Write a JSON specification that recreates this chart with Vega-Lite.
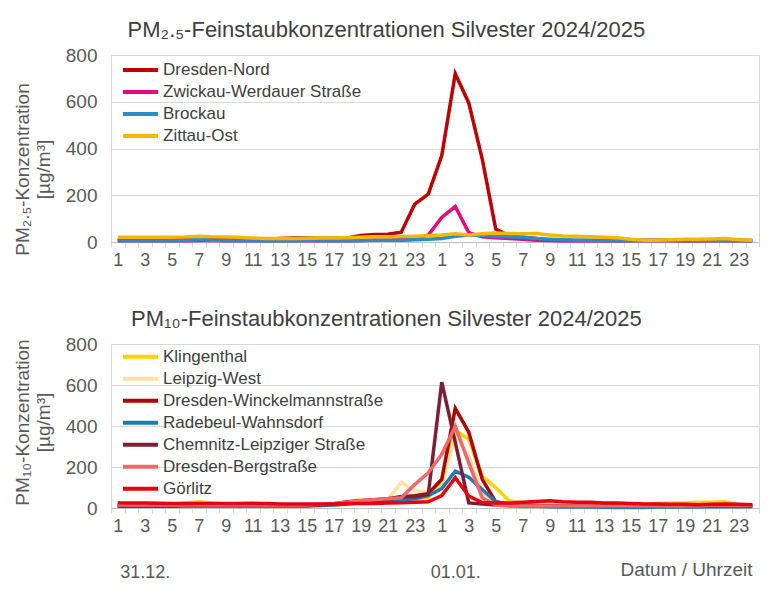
{
  "$schema": "https://vega.github.io/schema/vega-lite/v6.json",
  "padding": {"left": 12, "top": 18, "right": 10, "bottom": 5},
  "background": "white",
  "config": {
    "font": "Liberation Sans",
    "view": {"stroke": "#D9D9D9", "strokeWidth": 1},
    "title": {"fontSize": 22, "fontWeight": "normal", "color": "#404040", "anchor": "middle", "frame": "bounds", "offset": 4},
    "axis": {"labelFont": "Liberation Sans", "titleFont": "Liberation Sans", "labelColor": "#595959", "titleColor": "#595959", "titleFontWeight": "normal"},
    "legend": {"labelFont": "Liberation Sans", "labelFontSize": 17, "labelColor": "#404040", "labelLimit": 400, "symbolType": "stroke", "symbolSize": 1225, "symbolStrokeWidth": 4, "labelOffset": 3, "padding": 0, "rowPadding": 0, "title": null, "orient": "none", "legendX": 10}
  },
  "resolve": {"scale": {"color": "independent"}, "legend": {"color": "independent"}},
  "datasets": {
    "pm25": [
      {"s":"Dresden-Nord","t":1,"v":10},{"s":"Dresden-Nord","t":2,"v":10},{"s":"Dresden-Nord","t":3,"v":10},{"s":"Dresden-Nord","t":4,"v":10},{"s":"Dresden-Nord","t":5,"v":10},{"s":"Dresden-Nord","t":6,"v":11},{"s":"Dresden-Nord","t":7,"v":12},{"s":"Dresden-Nord","t":8,"v":12},{"s":"Dresden-Nord","t":9,"v":11},{"s":"Dresden-Nord","t":10,"v":10},{"s":"Dresden-Nord","t":11,"v":10},{"s":"Dresden-Nord","t":12,"v":10},
      {"s":"Dresden-Nord","t":13,"v":15},{"s":"Dresden-Nord","t":14,"v":17},{"s":"Dresden-Nord","t":15,"v":17},{"s":"Dresden-Nord","t":16,"v":16},{"s":"Dresden-Nord","t":17,"v":16},{"s":"Dresden-Nord","t":18,"v":17},{"s":"Dresden-Nord","t":19,"v":28},{"s":"Dresden-Nord","t":20,"v":32},{"s":"Dresden-Nord","t":21,"v":33},{"s":"Dresden-Nord","t":22,"v":42},{"s":"Dresden-Nord","t":23,"v":162},{"s":"Dresden-Nord","t":24,"v":205},
      {"s":"Dresden-Nord","t":25,"v":370},{"s":"Dresden-Nord","t":26,"v":720},{"s":"Dresden-Nord","t":27,"v":595},{"s":"Dresden-Nord","t":28,"v":355},{"s":"Dresden-Nord","t":29,"v":55},{"s":"Dresden-Nord","t":30,"v":25},{"s":"Dresden-Nord","t":31,"v":20},{"s":"Dresden-Nord","t":32,"v":15},{"s":"Dresden-Nord","t":33,"v":8},{"s":"Dresden-Nord","t":34,"v":6},{"s":"Dresden-Nord","t":35,"v":6},{"s":"Dresden-Nord","t":36,"v":6},
      {"s":"Dresden-Nord","t":37,"v":6},{"s":"Dresden-Nord","t":38,"v":5},{"s":"Dresden-Nord","t":39,"v":8},{"s":"Dresden-Nord","t":40,"v":7},{"s":"Dresden-Nord","t":41,"v":8},{"s":"Dresden-Nord","t":42,"v":7},{"s":"Dresden-Nord","t":43,"v":6},{"s":"Dresden-Nord","t":44,"v":6},{"s":"Dresden-Nord","t":45,"v":8},{"s":"Dresden-Nord","t":46,"v":8},{"s":"Dresden-Nord","t":47,"v":7},{"s":"Dresden-Nord","t":48,"v":6},

      {"s":"Zwickau-Werdauer Straße","t":1,"v":5},{"s":"Zwickau-Werdauer Straße","t":2,"v":5},{"s":"Zwickau-Werdauer Straße","t":3,"v":5},{"s":"Zwickau-Werdauer Straße","t":4,"v":5},{"s":"Zwickau-Werdauer Straße","t":5,"v":5},{"s":"Zwickau-Werdauer Straße","t":6,"v":5},{"s":"Zwickau-Werdauer Straße","t":7,"v":6},{"s":"Zwickau-Werdauer Straße","t":8,"v":6},{"s":"Zwickau-Werdauer Straße","t":9,"v":5},{"s":"Zwickau-Werdauer Straße","t":10,"v":5},{"s":"Zwickau-Werdauer Straße","t":11,"v":5},{"s":"Zwickau-Werdauer Straße","t":12,"v":5},
      {"s":"Zwickau-Werdauer Straße","t":13,"v":5},{"s":"Zwickau-Werdauer Straße","t":14,"v":5},{"s":"Zwickau-Werdauer Straße","t":15,"v":5},{"s":"Zwickau-Werdauer Straße","t":16,"v":5},{"s":"Zwickau-Werdauer Straße","t":17,"v":5},{"s":"Zwickau-Werdauer Straße","t":18,"v":5},{"s":"Zwickau-Werdauer Straße","t":19,"v":6},{"s":"Zwickau-Werdauer Straße","t":20,"v":8},{"s":"Zwickau-Werdauer Straße","t":21,"v":8},{"s":"Zwickau-Werdauer Straße","t":22,"v":10},{"s":"Zwickau-Werdauer Straße","t":23,"v":12},{"s":"Zwickau-Werdauer Straße","t":24,"v":30},
      {"s":"Zwickau-Werdauer Straße","t":25,"v":105},{"s":"Zwickau-Werdauer Straße","t":26,"v":152},{"s":"Zwickau-Werdauer Straße","t":27,"v":40},{"s":"Zwickau-Werdauer Straße","t":28,"v":22},{"s":"Zwickau-Werdauer Straße","t":29,"v":18},{"s":"Zwickau-Werdauer Straße","t":30,"v":15},{"s":"Zwickau-Werdauer Straße","t":31,"v":12},{"s":"Zwickau-Werdauer Straße","t":32,"v":8},{"s":"Zwickau-Werdauer Straße","t":33,"v":6},{"s":"Zwickau-Werdauer Straße","t":34,"v":5},{"s":"Zwickau-Werdauer Straße","t":35,"v":5},{"s":"Zwickau-Werdauer Straße","t":36,"v":5},
      {"s":"Zwickau-Werdauer Straße","t":37,"v":5},{"s":"Zwickau-Werdauer Straße","t":38,"v":5},{"s":"Zwickau-Werdauer Straße","t":39,"v":5},{"s":"Zwickau-Werdauer Straße","t":40,"v":5},{"s":"Zwickau-Werdauer Straße","t":41,"v":5},{"s":"Zwickau-Werdauer Straße","t":42,"v":5},{"s":"Zwickau-Werdauer Straße","t":43,"v":5},{"s":"Zwickau-Werdauer Straße","t":44,"v":5},{"s":"Zwickau-Werdauer Straße","t":45,"v":5},{"s":"Zwickau-Werdauer Straße","t":46,"v":5},{"s":"Zwickau-Werdauer Straße","t":47,"v":5},{"s":"Zwickau-Werdauer Straße","t":48,"v":5},

      {"s":"Brockau","t":1,"v":5},{"s":"Brockau","t":2,"v":5},{"s":"Brockau","t":3,"v":5},{"s":"Brockau","t":4,"v":5},{"s":"Brockau","t":5,"v":5},{"s":"Brockau","t":6,"v":6},{"s":"Brockau","t":7,"v":12},{"s":"Brockau","t":8,"v":8},{"s":"Brockau","t":9,"v":6},{"s":"Brockau","t":10,"v":5},{"s":"Brockau","t":11,"v":5},{"s":"Brockau","t":12,"v":5},
      {"s":"Brockau","t":13,"v":5},{"s":"Brockau","t":14,"v":5},{"s":"Brockau","t":15,"v":6},{"s":"Brockau","t":16,"v":6},{"s":"Brockau","t":17,"v":5},{"s":"Brockau","t":18,"v":5},{"s":"Brockau","t":19,"v":6},{"s":"Brockau","t":20,"v":7},{"s":"Brockau","t":21,"v":8},{"s":"Brockau","t":22,"v":8},{"s":"Brockau","t":23,"v":10},{"s":"Brockau","t":24,"v":12},
      {"s":"Brockau","t":25,"v":15},{"s":"Brockau","t":26,"v":25},{"s":"Brockau","t":27,"v":30},{"s":"Brockau","t":28,"v":28},{"s":"Brockau","t":29,"v":25},{"s":"Brockau","t":30,"v":22},{"s":"Brockau","t":31,"v":20},{"s":"Brockau","t":32,"v":15},{"s":"Brockau","t":33,"v":12},{"s":"Brockau","t":34,"v":10},{"s":"Brockau","t":35,"v":8},{"s":"Brockau","t":36,"v":7},
      {"s":"Brockau","t":37,"v":6},{"s":"Brockau","t":38,"v":5},{"s":"Brockau","t":39,"v":5},{"s":"Brockau","t":40,"v":6},{"s":"Brockau","t":41,"v":6},{"s":"Brockau","t":42,"v":6},{"s":"Brockau","t":43,"v":6},{"s":"Brockau","t":44,"v":6},{"s":"Brockau","t":45,"v":6},{"s":"Brockau","t":46,"v":5},{"s":"Brockau","t":47,"v":5},{"s":"Brockau","t":48,"v":5},

      {"s":"Zittau-Ost","t":1,"v":20},{"s":"Zittau-Ost","t":2,"v":20},{"s":"Zittau-Ost","t":3,"v":20},{"s":"Zittau-Ost","t":4,"v":20},{"s":"Zittau-Ost","t":5,"v":20},{"s":"Zittau-Ost","t":6,"v":21},{"s":"Zittau-Ost","t":7,"v":25},{"s":"Zittau-Ost","t":8,"v":22},{"s":"Zittau-Ost","t":9,"v":21},{"s":"Zittau-Ost","t":10,"v":20},{"s":"Zittau-Ost","t":11,"v":17},{"s":"Zittau-Ost","t":12,"v":15},
      {"s":"Zittau-Ost","t":13,"v":15},{"s":"Zittau-Ost","t":14,"v":15},{"s":"Zittau-Ost","t":15,"v":16},{"s":"Zittau-Ost","t":16,"v":17},{"s":"Zittau-Ost","t":17,"v":17},{"s":"Zittau-Ost","t":18,"v":18},{"s":"Zittau-Ost","t":19,"v":20},{"s":"Zittau-Ost","t":20,"v":22},{"s":"Zittau-Ost","t":21,"v":22},{"s":"Zittau-Ost","t":22,"v":24},{"s":"Zittau-Ost","t":23,"v":25},{"s":"Zittau-Ost","t":24,"v":27},
      {"s":"Zittau-Ost","t":25,"v":30},{"s":"Zittau-Ost","t":26,"v":35},{"s":"Zittau-Ost","t":27,"v":30},{"s":"Zittau-Ost","t":28,"v":35},{"s":"Zittau-Ost","t":29,"v":38},{"s":"Zittau-Ost","t":30,"v":36},{"s":"Zittau-Ost","t":31,"v":35},{"s":"Zittau-Ost","t":32,"v":36},{"s":"Zittau-Ost","t":33,"v":30},{"s":"Zittau-Ost","t":34,"v":26},{"s":"Zittau-Ost","t":35,"v":25},{"s":"Zittau-Ost","t":36,"v":22},
      {"s":"Zittau-Ost","t":37,"v":20},{"s":"Zittau-Ost","t":38,"v":18},{"s":"Zittau-Ost","t":39,"v":12},{"s":"Zittau-Ost","t":40,"v":8},{"s":"Zittau-Ost","t":41,"v":8},{"s":"Zittau-Ost","t":42,"v":10},{"s":"Zittau-Ost","t":43,"v":12},{"s":"Zittau-Ost","t":44,"v":12},{"s":"Zittau-Ost","t":45,"v":13},{"s":"Zittau-Ost","t":46,"v":15},{"s":"Zittau-Ost","t":47,"v":10},{"s":"Zittau-Ost","t":48,"v":8}
    ],
    "pm10": [
      {"s":"Klingenthal","t":1,"v":15},{"s":"Klingenthal","t":2,"v":15},{"s":"Klingenthal","t":3,"v":15},{"s":"Klingenthal","t":4,"v":18},{"s":"Klingenthal","t":5,"v":20},{"s":"Klingenthal","t":6,"v":25},{"s":"Klingenthal","t":7,"v":30},{"s":"Klingenthal","t":8,"v":25},{"s":"Klingenthal","t":9,"v":20},{"s":"Klingenthal","t":10,"v":22},{"s":"Klingenthal","t":11,"v":25},{"s":"Klingenthal","t":12,"v":20},
      {"s":"Klingenthal","t":13,"v":18},{"s":"Klingenthal","t":14,"v":15},{"s":"Klingenthal","t":15,"v":15},{"s":"Klingenthal","t":16,"v":15},{"s":"Klingenthal","t":17,"v":15},{"s":"Klingenthal","t":18,"v":18},{"s":"Klingenthal","t":19,"v":25},{"s":"Klingenthal","t":20,"v":30},{"s":"Klingenthal","t":21,"v":35},{"s":"Klingenthal","t":22,"v":40},{"s":"Klingenthal","t":23,"v":45},{"s":"Klingenthal","t":24,"v":50},
      {"s":"Klingenthal","t":25,"v":130},{"s":"Klingenthal","t":26,"v":380},{"s":"Klingenthal","t":27,"v":335},{"s":"Klingenthal","t":28,"v":155},{"s":"Klingenthal","t":29,"v":100},{"s":"Klingenthal","t":30,"v":35},{"s":"Klingenthal","t":31,"v":25},{"s":"Klingenthal","t":32,"v":20},{"s":"Klingenthal","t":33,"v":18},{"s":"Klingenthal","t":34,"v":15},{"s":"Klingenthal","t":35,"v":15},{"s":"Klingenthal","t":36,"v":15},
      {"s":"Klingenthal","t":37,"v":15},{"s":"Klingenthal","t":38,"v":15},{"s":"Klingenthal","t":39,"v":18},{"s":"Klingenthal","t":40,"v":20},{"s":"Klingenthal","t":41,"v":22},{"s":"Klingenthal","t":42,"v":25},{"s":"Klingenthal","t":43,"v":25},{"s":"Klingenthal","t":44,"v":28},{"s":"Klingenthal","t":45,"v":28},{"s":"Klingenthal","t":46,"v":30},{"s":"Klingenthal","t":47,"v":15},{"s":"Klingenthal","t":48,"v":12},

      {"s":"Leipzig-West","t":1,"v":10},{"s":"Leipzig-West","t":2,"v":10},{"s":"Leipzig-West","t":3,"v":10},{"s":"Leipzig-West","t":4,"v":10},{"s":"Leipzig-West","t":5,"v":12},{"s":"Leipzig-West","t":6,"v":15},{"s":"Leipzig-West","t":7,"v":15},{"s":"Leipzig-West","t":8,"v":15},{"s":"Leipzig-West","t":9,"v":15},{"s":"Leipzig-West","t":10,"v":15},{"s":"Leipzig-West","t":11,"v":15},{"s":"Leipzig-West","t":12,"v":12},
      {"s":"Leipzig-West","t":13,"v":10},{"s":"Leipzig-West","t":14,"v":10},{"s":"Leipzig-West","t":15,"v":12},{"s":"Leipzig-West","t":16,"v":15},{"s":"Leipzig-West","t":17,"v":18},{"s":"Leipzig-West","t":18,"v":25},{"s":"Leipzig-West","t":19,"v":45},{"s":"Leipzig-West","t":20,"v":35},{"s":"Leipzig-West","t":21,"v":40},{"s":"Leipzig-West","t":22,"v":125},{"s":"Leipzig-West","t":23,"v":85},{"s":"Leipzig-West","t":24,"v":75},
      {"s":"Leipzig-West","t":25,"v":100},{"s":"Leipzig-West","t":26,"v":355},{"s":"Leipzig-West","t":27,"v":250},{"s":"Leipzig-West","t":28,"v":80},{"s":"Leipzig-West","t":29,"v":25},{"s":"Leipzig-West","t":30,"v":15},{"s":"Leipzig-West","t":31,"v":12},{"s":"Leipzig-West","t":32,"v":10},{"s":"Leipzig-West","t":33,"v":10},{"s":"Leipzig-West","t":34,"v":10},{"s":"Leipzig-West","t":35,"v":10},{"s":"Leipzig-West","t":36,"v":10},
      {"s":"Leipzig-West","t":37,"v":10},{"s":"Leipzig-West","t":38,"v":10},{"s":"Leipzig-West","t":39,"v":10},{"s":"Leipzig-West","t":40,"v":10},{"s":"Leipzig-West","t":41,"v":10},{"s":"Leipzig-West","t":42,"v":10},{"s":"Leipzig-West","t":43,"v":12},{"s":"Leipzig-West","t":44,"v":12},{"s":"Leipzig-West","t":45,"v":12},{"s":"Leipzig-West","t":46,"v":12},{"s":"Leipzig-West","t":47,"v":10},{"s":"Leipzig-West","t":48,"v":10},

      {"s":"Dresden-Winckelmannstraße","t":1,"v":10},{"s":"Dresden-Winckelmannstraße","t":2,"v":10},{"s":"Dresden-Winckelmannstraße","t":3,"v":10},{"s":"Dresden-Winckelmannstraße","t":4,"v":10},{"s":"Dresden-Winckelmannstraße","t":5,"v":10},{"s":"Dresden-Winckelmannstraße","t":6,"v":12},{"s":"Dresden-Winckelmannstraße","t":7,"v":12},{"s":"Dresden-Winckelmannstraße","t":8,"v":12},{"s":"Dresden-Winckelmannstraße","t":9,"v":12},{"s":"Dresden-Winckelmannstraße","t":10,"v":12},{"s":"Dresden-Winckelmannstraße","t":11,"v":12},{"s":"Dresden-Winckelmannstraße","t":12,"v":12},
      {"s":"Dresden-Winckelmannstraße","t":13,"v":12},{"s":"Dresden-Winckelmannstraße","t":14,"v":12},{"s":"Dresden-Winckelmannstraße","t":15,"v":12},{"s":"Dresden-Winckelmannstraße","t":16,"v":15},{"s":"Dresden-Winckelmannstraße","t":17,"v":20},{"s":"Dresden-Winckelmannstraße","t":18,"v":30},{"s":"Dresden-Winckelmannstraße","t":19,"v":35},{"s":"Dresden-Winckelmannstraße","t":20,"v":40},{"s":"Dresden-Winckelmannstraße","t":21,"v":45},{"s":"Dresden-Winckelmannstraße","t":22,"v":55},{"s":"Dresden-Winckelmannstraße","t":23,"v":60},{"s":"Dresden-Winckelmannstraße","t":24,"v":70},
      {"s":"Dresden-Winckelmannstraße","t":25,"v":140},{"s":"Dresden-Winckelmannstraße","t":26,"v":486},{"s":"Dresden-Winckelmannstraße","t":27,"v":370},{"s":"Dresden-Winckelmannstraße","t":28,"v":140},{"s":"Dresden-Winckelmannstraße","t":29,"v":30},{"s":"Dresden-Winckelmannstraße","t":30,"v":20},{"s":"Dresden-Winckelmannstraße","t":31,"v":15},{"s":"Dresden-Winckelmannstraße","t":32,"v":12},{"s":"Dresden-Winckelmannstraße","t":33,"v":10},{"s":"Dresden-Winckelmannstraße","t":34,"v":10},{"s":"Dresden-Winckelmannstraße","t":35,"v":10},{"s":"Dresden-Winckelmannstraße","t":36,"v":10},
      {"s":"Dresden-Winckelmannstraße","t":37,"v":10},{"s":"Dresden-Winckelmannstraße","t":38,"v":10},{"s":"Dresden-Winckelmannstraße","t":39,"v":10},{"s":"Dresden-Winckelmannstraße","t":40,"v":10},{"s":"Dresden-Winckelmannstraße","t":41,"v":10},{"s":"Dresden-Winckelmannstraße","t":42,"v":10},{"s":"Dresden-Winckelmannstraße","t":43,"v":10},{"s":"Dresden-Winckelmannstraße","t":44,"v":10},{"s":"Dresden-Winckelmannstraße","t":45,"v":10},{"s":"Dresden-Winckelmannstraße","t":46,"v":10},{"s":"Dresden-Winckelmannstraße","t":47,"v":10},{"s":"Dresden-Winckelmannstraße","t":48,"v":10},

      {"s":"Radebeul-Wahnsdorf","t":1,"v":8},{"s":"Radebeul-Wahnsdorf","t":2,"v":8},{"s":"Radebeul-Wahnsdorf","t":3,"v":8},{"s":"Radebeul-Wahnsdorf","t":4,"v":8},{"s":"Radebeul-Wahnsdorf","t":5,"v":8},{"s":"Radebeul-Wahnsdorf","t":6,"v":10},{"s":"Radebeul-Wahnsdorf","t":7,"v":10},{"s":"Radebeul-Wahnsdorf","t":8,"v":10},{"s":"Radebeul-Wahnsdorf","t":9,"v":10},{"s":"Radebeul-Wahnsdorf","t":10,"v":10},{"s":"Radebeul-Wahnsdorf","t":11,"v":10},{"s":"Radebeul-Wahnsdorf","t":12,"v":10},
      {"s":"Radebeul-Wahnsdorf","t":13,"v":10},{"s":"Radebeul-Wahnsdorf","t":14,"v":10},{"s":"Radebeul-Wahnsdorf","t":15,"v":10},{"s":"Radebeul-Wahnsdorf","t":16,"v":12},{"s":"Radebeul-Wahnsdorf","t":17,"v":15},{"s":"Radebeul-Wahnsdorf","t":18,"v":20},{"s":"Radebeul-Wahnsdorf","t":19,"v":25},{"s":"Radebeul-Wahnsdorf","t":20,"v":28},{"s":"Radebeul-Wahnsdorf","t":21,"v":30},{"s":"Radebeul-Wahnsdorf","t":22,"v":40},{"s":"Radebeul-Wahnsdorf","t":23,"v":45},{"s":"Radebeul-Wahnsdorf","t":24,"v":60},
      {"s":"Radebeul-Wahnsdorf","t":25,"v":95},{"s":"Radebeul-Wahnsdorf","t":26,"v":180},{"s":"Radebeul-Wahnsdorf","t":27,"v":150},{"s":"Radebeul-Wahnsdorf","t":28,"v":90},{"s":"Radebeul-Wahnsdorf","t":29,"v":30},{"s":"Radebeul-Wahnsdorf","t":30,"v":15},{"s":"Radebeul-Wahnsdorf","t":31,"v":10},{"s":"Radebeul-Wahnsdorf","t":32,"v":8},{"s":"Radebeul-Wahnsdorf","t":33,"v":6},{"s":"Radebeul-Wahnsdorf","t":34,"v":5},{"s":"Radebeul-Wahnsdorf","t":35,"v":5},{"s":"Radebeul-Wahnsdorf","t":36,"v":5},
      {"s":"Radebeul-Wahnsdorf","t":37,"v":4},{"s":"Radebeul-Wahnsdorf","t":38,"v":3},{"s":"Radebeul-Wahnsdorf","t":39,"v":2},{"s":"Radebeul-Wahnsdorf","t":40,"v":3},{"s":"Radebeul-Wahnsdorf","t":41,"v":5},{"s":"Radebeul-Wahnsdorf","t":42,"v":5},{"s":"Radebeul-Wahnsdorf","t":43,"v":5},{"s":"Radebeul-Wahnsdorf","t":44,"v":5},{"s":"Radebeul-Wahnsdorf","t":45,"v":6},{"s":"Radebeul-Wahnsdorf","t":46,"v":6},{"s":"Radebeul-Wahnsdorf","t":47,"v":6},{"s":"Radebeul-Wahnsdorf","t":48,"v":6},

      {"s":"Chemnitz-Leipziger Straße","t":1,"v":10},{"s":"Chemnitz-Leipziger Straße","t":2,"v":10},{"s":"Chemnitz-Leipziger Straße","t":3,"v":10},{"s":"Chemnitz-Leipziger Straße","t":4,"v":10},{"s":"Chemnitz-Leipziger Straße","t":5,"v":10},{"s":"Chemnitz-Leipziger Straße","t":6,"v":12},{"s":"Chemnitz-Leipziger Straße","t":7,"v":12},{"s":"Chemnitz-Leipziger Straße","t":8,"v":12},{"s":"Chemnitz-Leipziger Straße","t":9,"v":12},{"s":"Chemnitz-Leipziger Straße","t":10,"v":12},{"s":"Chemnitz-Leipziger Straße","t":11,"v":12},{"s":"Chemnitz-Leipziger Straße","t":12,"v":12},
      {"s":"Chemnitz-Leipziger Straße","t":13,"v":12},{"s":"Chemnitz-Leipziger Straße","t":14,"v":12},{"s":"Chemnitz-Leipziger Straße","t":15,"v":12},{"s":"Chemnitz-Leipziger Straße","t":16,"v":15},{"s":"Chemnitz-Leipziger Straße","t":17,"v":20},{"s":"Chemnitz-Leipziger Straße","t":18,"v":28},{"s":"Chemnitz-Leipziger Straße","t":19,"v":30},{"s":"Chemnitz-Leipziger Straße","t":20,"v":35},{"s":"Chemnitz-Leipziger Straße","t":21,"v":40},{"s":"Chemnitz-Leipziger Straße","t":22,"v":55},{"s":"Chemnitz-Leipziger Straße","t":23,"v":55},{"s":"Chemnitz-Leipziger Straße","t":24,"v":66},
      {"s":"Chemnitz-Leipziger Straße","t":25,"v":614},{"s":"Chemnitz-Leipziger Straße","t":26,"v":320},{"s":"Chemnitz-Leipziger Straße","t":27,"v":25},{"s":"Chemnitz-Leipziger Straße","t":28,"v":20},{"s":"Chemnitz-Leipziger Straße","t":29,"v":15},{"s":"Chemnitz-Leipziger Straße","t":30,"v":12},{"s":"Chemnitz-Leipziger Straße","t":31,"v":10},{"s":"Chemnitz-Leipziger Straße","t":32,"v":10},{"s":"Chemnitz-Leipziger Straße","t":33,"v":10},{"s":"Chemnitz-Leipziger Straße","t":34,"v":8},{"s":"Chemnitz-Leipziger Straße","t":35,"v":8},{"s":"Chemnitz-Leipziger Straße","t":36,"v":8},
      {"s":"Chemnitz-Leipziger Straße","t":37,"v":8},{"s":"Chemnitz-Leipziger Straße","t":38,"v":8},{"s":"Chemnitz-Leipziger Straße","t":39,"v":8},{"s":"Chemnitz-Leipziger Straße","t":40,"v":8},{"s":"Chemnitz-Leipziger Straße","t":41,"v":8},{"s":"Chemnitz-Leipziger Straße","t":42,"v":8},{"s":"Chemnitz-Leipziger Straße","t":43,"v":8},{"s":"Chemnitz-Leipziger Straße","t":44,"v":8},{"s":"Chemnitz-Leipziger Straße","t":45,"v":8},{"s":"Chemnitz-Leipziger Straße","t":46,"v":10},{"s":"Chemnitz-Leipziger Straße","t":47,"v":10},{"s":"Chemnitz-Leipziger Straße","t":48,"v":10},

      {"s":"Dresden-Bergstraße","t":1,"v":15},{"s":"Dresden-Bergstraße","t":2,"v":15},{"s":"Dresden-Bergstraße","t":3,"v":15},{"s":"Dresden-Bergstraße","t":4,"v":15},{"s":"Dresden-Bergstraße","t":5,"v":15},{"s":"Dresden-Bergstraße","t":6,"v":15},{"s":"Dresden-Bergstraße","t":7,"v":15},{"s":"Dresden-Bergstraße","t":8,"v":15},{"s":"Dresden-Bergstraße","t":9,"v":15},{"s":"Dresden-Bergstraße","t":10,"v":15},{"s":"Dresden-Bergstraße","t":11,"v":15},{"s":"Dresden-Bergstraße","t":12,"v":15},
      {"s":"Dresden-Bergstraße","t":13,"v":15},{"s":"Dresden-Bergstraße","t":14,"v":15},{"s":"Dresden-Bergstraße","t":15,"v":15},{"s":"Dresden-Bergstraße","t":16,"v":18},{"s":"Dresden-Bergstraße","t":17,"v":22},{"s":"Dresden-Bergstraße","t":18,"v":28},{"s":"Dresden-Bergstraße","t":19,"v":35},{"s":"Dresden-Bergstraße","t":20,"v":40},{"s":"Dresden-Bergstraße","t":21,"v":45},{"s":"Dresden-Bergstraße","t":22,"v":50},{"s":"Dresden-Bergstraße","t":23,"v":115},{"s":"Dresden-Bergstraße","t":24,"v":172},
      {"s":"Dresden-Bergstraße","t":25,"v":262},{"s":"Dresden-Bergstraße","t":26,"v":398},{"s":"Dresden-Bergstraße","t":27,"v":220},{"s":"Dresden-Bergstraße","t":28,"v":50},{"s":"Dresden-Bergstraße","t":29,"v":15},{"s":"Dresden-Bergstraße","t":30,"v":10},{"s":"Dresden-Bergstraße","t":31,"v":10},{"s":"Dresden-Bergstraße","t":32,"v":10},{"s":"Dresden-Bergstraße","t":33,"v":10},{"s":"Dresden-Bergstraße","t":34,"v":10},{"s":"Dresden-Bergstraße","t":35,"v":10},{"s":"Dresden-Bergstraße","t":36,"v":10},
      {"s":"Dresden-Bergstraße","t":37,"v":10},{"s":"Dresden-Bergstraße","t":38,"v":10},{"s":"Dresden-Bergstraße","t":39,"v":10},{"s":"Dresden-Bergstraße","t":40,"v":10},{"s":"Dresden-Bergstraße","t":41,"v":10},{"s":"Dresden-Bergstraße","t":42,"v":10},{"s":"Dresden-Bergstraße","t":43,"v":10},{"s":"Dresden-Bergstraße","t":44,"v":10},{"s":"Dresden-Bergstraße","t":45,"v":12},{"s":"Dresden-Bergstraße","t":46,"v":12},{"s":"Dresden-Bergstraße","t":47,"v":12},{"s":"Dresden-Bergstraße","t":48,"v":12},

      {"s":"Görlitz","t":1,"v":25},{"s":"Görlitz","t":2,"v":24},{"s":"Görlitz","t":3,"v":24},{"s":"Görlitz","t":4,"v":23},{"s":"Görlitz","t":5,"v":22},{"s":"Görlitz","t":6,"v":22},{"s":"Görlitz","t":7,"v":22},{"s":"Görlitz","t":8,"v":22},{"s":"Görlitz","t":9,"v":22},{"s":"Görlitz","t":10,"v":22},{"s":"Görlitz","t":11,"v":22},{"s":"Görlitz","t":12,"v":22},
      {"s":"Görlitz","t":13,"v":20},{"s":"Görlitz","t":14,"v":20},{"s":"Görlitz","t":15,"v":20},{"s":"Görlitz","t":16,"v":20},{"s":"Görlitz","t":17,"v":20},{"s":"Görlitz","t":18,"v":22},{"s":"Görlitz","t":19,"v":22},{"s":"Görlitz","t":20,"v":22},{"s":"Görlitz","t":21,"v":24},{"s":"Görlitz","t":22,"v":25},{"s":"Görlitz","t":23,"v":28},{"s":"Görlitz","t":24,"v":30},
      {"s":"Görlitz","t":25,"v":61},{"s":"Görlitz","t":26,"v":148},{"s":"Görlitz","t":27,"v":58},{"s":"Görlitz","t":28,"v":27},{"s":"Görlitz","t":29,"v":25},{"s":"Görlitz","t":30,"v":25},{"s":"Görlitz","t":31,"v":28},{"s":"Görlitz","t":32,"v":32},{"s":"Görlitz","t":33,"v":35},{"s":"Görlitz","t":34,"v":30},{"s":"Görlitz","t":35,"v":28},{"s":"Görlitz","t":36,"v":28},
      {"s":"Görlitz","t":37,"v":25},{"s":"Görlitz","t":38,"v":25},{"s":"Görlitz","t":39,"v":22},{"s":"Görlitz","t":40,"v":20},{"s":"Görlitz","t":41,"v":20},{"s":"Görlitz","t":42,"v":18},{"s":"Görlitz","t":43,"v":18},{"s":"Görlitz","t":44,"v":16},{"s":"Görlitz","t":45,"v":18},{"s":"Görlitz","t":46,"v":20},{"s":"Görlitz","t":47,"v":18},{"s":"Görlitz","t":48,"v":16}
    ]
  },
  "spacing": 37,
  "vconcat": [
    {
      "title": "PM₂.₅-Feinstaubkonzentrationen Silvester 2024/2025",
      "width": 648,
      "height": 187,
      "data": {"name": "pm25"},
      "mark": {"type": "line", "strokeWidth": 3.5},
      "encoding": {
        "x": {
          "field": "t", "type": "ordinal", "bandPosition": 0.5,
          "scale": {"type": "band", "paddingInner": 0, "paddingOuter": 0},
          "axis": {"title": null, "labelAngle": 0, "labelFontSize": 18, "labelOverlap": false, "tickBand": "extent", "tickSize": 5, "tickColor": "#D9D9D9", "domainColor": "#BFBFBF", "labelPadding": 4,
                   "labelExpr": "datum.value % 2 == 1 ? '' + ((datum.value - 1) % 24 + 1) : ''"}
        },
        "y": {
          "field": "v", "type": "quantitative",
          "scale": {"domain": [0, 800]},
          "axis": {"title": ["PM₂.₅-Konzentration", "[µg/m³]"], "titleFontSize": 19, "titleLineHeight": 21, "titleY": 114, "titlePadding": 12, "values": [0, 200, 400, 600, 800], "labelFontSize": 19, "labelPadding": 14, "ticks": false, "domain": false, "gridColor": "#D9D9D9"}
        },
        "color": {
          "field": "s", "type": "nominal",
          "scale": {"domain": ["Dresden-Nord", "Zwickau-Werdauer Straße", "Brockau", "Zittau-Ost"], "range": ["#C00000", "#E6097E", "#2A8CC8", "#F5B800"]},
          "legend": {"legendY": 4, "clipHeight": 22}
        }
      }
    },
    {
      "title": "PM₁₀-Feinstaubkonzentrationen Silvester 2024/2025",
      "width": 648,
      "height": 164,
      "data": {"name": "pm10"},
      "mark": {"type": "line", "strokeWidth": 3.5},
      "encoding": {
        "x": {
          "field": "t", "type": "ordinal", "bandPosition": 0.5,
          "scale": {"type": "band", "paddingInner": 0, "paddingOuter": 0},
          "axis": {"title": "Datum / Uhrzeit", "titleFontSize": 19, "titleAnchor": "end", "titleAlign": "right", "titleBaseline": "alphabetic", "titleX": 641, "titleY": 67,
                   "labelAngle": 0, "labelFontSize": 18, "labelLineHeight": 46, "labelOverlap": false, "tickBand": "extent", "tickSize": 5, "tickColor": "#D9D9D9", "domainColor": "#BFBFBF", "labelPadding": 4,
                   "labelExpr": "datum.value == 3 ? ['3', '31.12.'] : datum.value == 26 ? [' ', '01.01.'] : (datum.value % 2 == 1 ? '' + ((datum.value - 1) % 24 + 1) : '')"}
        },
        "y": {
          "field": "v", "type": "quantitative",
          "scale": {"domain": [0, 800]},
          "axis": {"title": ["PM₁₀-Konzentration", "[µg/m³]"], "titleFontSize": 19, "titleLineHeight": 21, "titleY": 78, "titlePadding": 12, "values": [0, 200, 400, 600, 800], "labelFontSize": 19, "labelPadding": 14, "ticks": false, "domain": false, "gridColor": "#D9D9D9"}
        },
        "color": {
          "field": "s", "type": "nominal",
          "scale": {"domain": ["Klingenthal", "Leipzig-West", "Dresden-Winckelmannstraße", "Radebeul-Wahnsdorf", "Chemnitz-Leipziger Straße", "Dresden-Bergstraße", "Görlitz"], "range": ["#FFD200", "#FBE3A0", "#B00000", "#1F7AB4", "#7F1F35", "#F06868", "#E60012"]},
          "legend": {"legendY": 2, "clipHeight": 21.5}
        }
      }
    }
  ]
}
